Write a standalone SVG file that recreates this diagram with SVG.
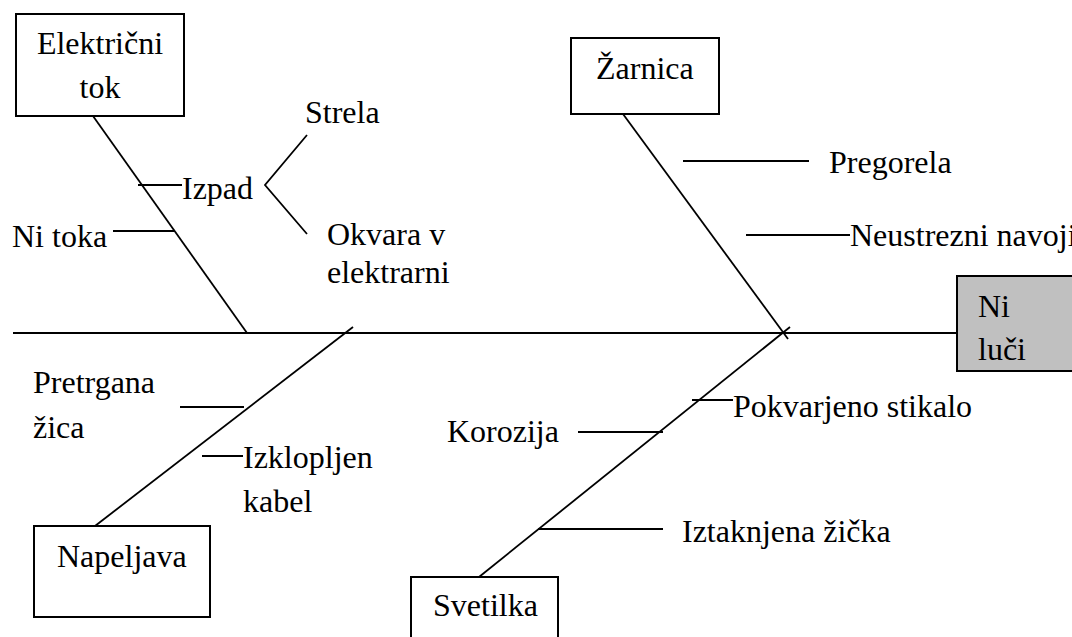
<svg xmlns="http://www.w3.org/2000/svg" width="1072" height="637" viewBox="0 0 1072 637">
  <style>
    .box { fill: #ffffff; stroke: #000000; stroke-width: 2; }
    .effect { fill: #c0c0c0; stroke: #000000; stroke-width: 2; }
    .ln { stroke: #000000; stroke-width: 1.8; fill: none; }
  </style>
  <rect width="1072" height="637" fill="#ffffff"/>

  <!-- spine, bones and cause ticks -->
  <g id="connectors">
    <line class="ln" x1="13" y1="333" x2="957" y2="333"/>
    <!-- electric current bone -->
    <line class="ln" x1="93" y1="116" x2="247" y2="333"/>
    <line class="ln" x1="138" y1="185" x2="182" y2="185"/>
    <line class="ln" x1="113" y1="231" x2="175" y2="231"/>
    <polyline class="ln" points="307,135 265,185 307,234"/>
    <!-- bulb bone -->
    <line class="ln" x1="623" y1="114" x2="788" y2="339"/>
    <line class="ln" x1="683" y1="161" x2="809" y2="161"/>
    <line class="ln" x1="746" y1="235" x2="850" y2="235"/>
    <!-- wiring bone -->
    <line class="ln" x1="95" y1="526" x2="353" y2="327"/>
    <line class="ln" x1="180" y1="407" x2="244" y2="407"/>
    <line class="ln" x1="202" y1="456" x2="243" y2="456"/>
    <!-- lamp bone -->
    <line class="ln" x1="479" y1="577" x2="790" y2="327"/>
    <line class="ln" x1="692" y1="400" x2="733" y2="400"/>
    <line class="ln" x1="578" y1="432" x2="663" y2="432"/>
    <line class="ln" x1="620" y1="432" x2="643" y2="432" stroke-width="3"/>
    <line class="ln" x1="538" y1="529" x2="663" y2="529"/>
  </g>

  <!-- cause labels -->
  <g id="labels">
    <text x="182" y="199" font-family="Liberation Serif" font-size="32">Izpad</text>
    <text x="12" y="247" font-family="Liberation Serif" font-size="32">Ni toka</text>
    <text x="305" y="123" font-family="Liberation Serif" font-size="32">Strela</text>
    <text x="327" y="245" font-family="Liberation Serif" font-size="32">Okvara v</text>
    <text x="327" y="283" font-family="Liberation Serif" font-size="32">elektrarni</text>
    <text x="829" y="173" font-family="Liberation Serif" font-size="32">Pregorela</text>
    <text x="850" y="246" font-family="Liberation Serif" font-size="32">Neustrezni navoji</text>
    <text x="33" y="393" font-family="Liberation Serif" font-size="32">Pretrgana</text>
    <text x="33" y="438" font-family="Liberation Serif" font-size="32">&#382;ica</text>
    <text x="243" y="468" font-family="Liberation Serif" font-size="32">Izklopljen</text>
    <text x="243" y="512" font-family="Liberation Serif" font-size="32">kabel</text>
    <text x="733" y="417" font-family="Liberation Serif" font-size="32">Pokvarjeno stikalo</text>
    <text x="447" y="442" font-family="Liberation Serif" font-size="32">Korozija</text>
    <text x="682" y="542" font-family="Liberation Serif" font-size="32">Iztaknjena &#382;i&#269;ka</text>
  </g>

  <g id="node-elektricni-tok">
    <rect class="box" x="16" y="14" width="168" height="102"/>
    <text x="100" y="54" text-anchor="middle" font-family="Liberation Serif" font-size="32">Elektri&#269;ni</text>
    <text x="100" y="98" text-anchor="middle" font-family="Liberation Serif" font-size="32">tok</text>
  </g>

  <g id="node-zarnica">
    <rect class="box" x="571" y="38" width="148" height="76"/>
    <text x="596" y="79" font-family="Liberation Serif" font-size="32">&#381;arnica</text>
  </g>

  <g id="node-napeljava">
    <rect class="box" x="34" y="526" width="176" height="91"/>
    <text x="57" y="567" font-family="Liberation Serif" font-size="32">Napeljava</text>
  </g>

  <g id="node-svetilka">
    <rect class="box" x="411" y="577" width="147" height="80"/>
    <text x="433" y="616" font-family="Liberation Serif" font-size="32">Svetilka</text>
  </g>

  <g id="node-ni-luci">
    <rect class="effect" x="957" y="276" width="130" height="95"/>
    <text x="978" y="317" font-family="Liberation Serif" font-size="32">Ni</text>
    <text x="978" y="360" font-family="Liberation Serif" font-size="32">lu&#269;i</text>
  </g>
</svg>
